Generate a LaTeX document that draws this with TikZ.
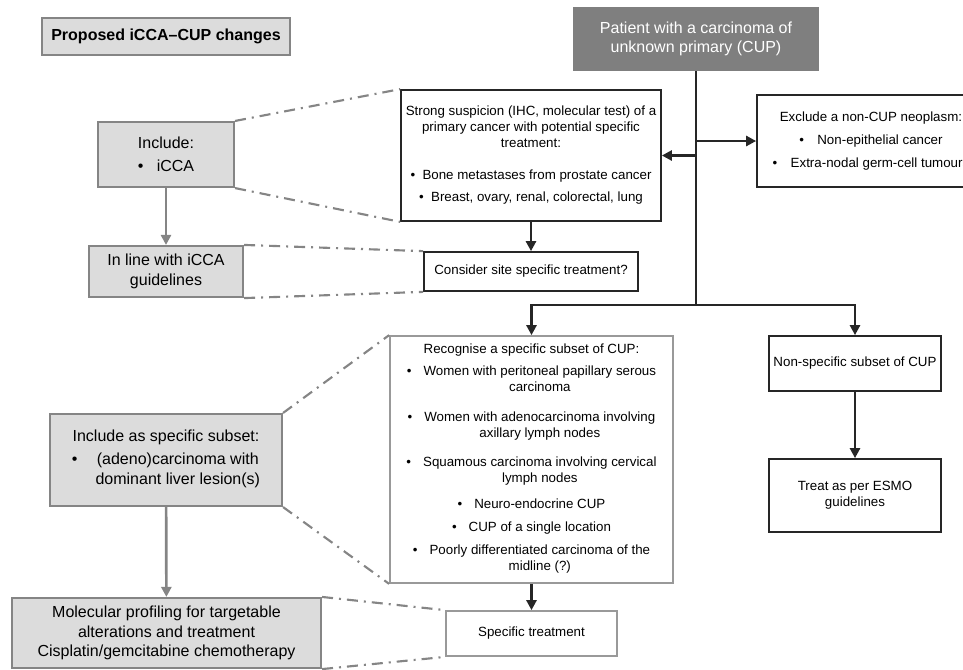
\documentclass[tikz,border=0pt]{standalone}
\usepackage{fontspec}
\setmainfont{Liberation Sans}
\usepackage{xcolor}
\usepackage{tikz}
\usetikzlibrary{arrows.meta, calc}

\definecolor{boxgray}{HTML}{DCDCDC}
\definecolor{edgegray}{HTML}{858585}
\definecolor{headgray}{HTML}{7F7F7F}

\newcommand{\bigtxt}{\fontsize{12}{14.5}\selectfont}
\newcommand{\smalltxt}{\fontsize{10}{12}\selectfont}
\newcommand{\hang}[2]{\textbullet\hspace{#1}\begin{tabular}[t]{@{}c@{}}#2\end{tabular}}

\tikzset{
  graybox/.style={draw=edgegray, line width=1.6pt, fill=boxgray, align=center, inner sep=0pt, font=\bigtxt},
  darkbox/.style={fill=headgray, text=white, align=center, inner sep=0pt, font=\bigtxt},
  whitebox/.style={draw=black!85, line width=1.3pt, fill=white, align=center, inner sep=0pt, font=\smalltxt},
  lightbox/.style={whitebox, draw=gray!80},
  flow/.style={->, line width=2pt, black!85},
  grayflow/.style={->, line width=2pt, edgegray},
  link/.style={edgegray, line width=1.6pt, dash pattern=on 8.25pt off 4.5pt on 1.5pt off 4.5pt},
}

\begin{document}
\begin{tikzpicture}[x=0.75pt, y=-0.75pt, >={Triangle[length=7.5pt, width=7.5pt]}]
    % Frame
    \useasboundingbox (0,0) rectangle (963,669);
    \clip (0,0) rectangle (963,669);

    % Left column: proposed changes
    \node[graybox, minimum width=186pt, minimum height=27.75pt, font=\bigtxt\bfseries] (title) at (166,36.5) {Proposed iCCA--CUP changes};
    \node[graybox, minimum width=102pt, minimum height=48.75pt] (include) at (166,154.5) {Include:\\[3pt] \textbullet\hspace{10pt}iCCA};
    \node[graybox, minimum width=115.5pt, minimum height=38.25pt] (inline) at (166,271.5) {In line with iCCA\\guidelines};
    \node[graybox, minimum width=174pt, minimum height=69pt] (specsub) at (166,460) {Include as specific subset:\\[3pt] \hang{13.5pt}{(adeno)carcinoma with\\dominant liver lesion(s)}};
    \node[graybox, minimum width=231.75pt, minimum height=52.5pt] (molecular) at (166.5,633) {Molecular profiling for targetable\\alterations and treatment\\Cisplatin/gemcitabine chemotherapy};

    % CUP pathway
    \node[darkbox, minimum width=184.5pt, minimum height=48pt] (patient) at (696,39) {Patient with a carcinoma of\\unknown primary (CUP)};
    \node[whitebox, minimum width=195pt, minimum height=98.25pt] (strong) at (531,155.5) {Strong suspicion (IHC, molecular test) of a\\primary cancer with potential specific\\treatment:\\[12pt] \textbullet\hspace{0.55em}Bone metastases from prostate cancer\\[4.5pt] \textbullet\hspace{0.55em}Breast, ovary, renal, colorectal, lung};
    \node[whitebox, minimum width=160.5pt, minimum height=29.25pt] (consider) at (531,271.5) {Consider site specific treatment?};
    \node[whitebox, minimum width=171pt, minimum height=69pt] (exclude) at (871,141) {Exclude a non-CUP neoplasm:\\[5pt] \textbullet\hspace{1em}Non-epithelial cancer\\[5pt] \textbullet\hspace{1em}Extra-nodal germ-cell tumours};
    \node[lightbox, minimum width=212.25pt, minimum height=185.25pt] (recognise) at (531.5,459.5) {Recognise a specific subset of CUP:\\[4.5pt]
      \hang{0.9em}{Women with peritoneal papillary serous\\carcinoma}\\[9pt]
      \hang{0.9em}{Women with adenocarcinoma involving\\axillary lymph nodes}\\[9pt]
      \hang{0.9em}{Squamous carcinoma involving cervical\\lymph nodes}\\[8pt]
      \textbullet\hspace{0.9em}Neuro-endocrine CUP\\[5pt]
      \textbullet\hspace{0.9em}CUP of a single location\\[5pt]
      \hang{0.9em}{Poorly differentiated carcinoma of the\\midline (?)}};
    \node[lightbox, minimum width=128.25pt, minimum height=33.75pt] (spectreat) at (531.5,633.5) {Specific treatment};
    \node[whitebox, minimum width=129pt, minimum height=41.25pt] (nonspec) at (855,363.5) {Non-specific subset of CUP};
    \node[whitebox, minimum width=129pt, minimum height=54.75pt] (treat) at (855,495.5) {Treat as per ESMO\\guidelines};

    % Arrows
    \coordinate (split) at (696,305);
    \draw[line width=2pt, black!85] (patient.south) -- (split);
    \draw[flow] (split) -| (recognise.north);
    \draw[flow] (split) -| (nonspec.north);
    \draw[flow] (patient.south |- strong.east) -- (strong.east);
    \draw[flow] (patient.south |- exclude.west) -- (exclude.west);
    \draw[flow] (strong) -- (consider);
    \draw[flow] (recognise) -- (spectreat);
    \draw[flow] (nonspec) -- (treat);
    \draw[grayflow] (include) -- (inline);
    \draw[grayflow] (specsub) -- (molecular);

    % Links between the two columns
    \draw[link] (include.north east) -- (strong.north west);
    \draw[link] (include.south east) -- (strong.south west);
    \draw[link] (inline.north east) -- (consider.north west);
    \draw[link] (inline.south east) -- (consider.south west);
    \draw[link] (specsub.north east) -- (recognise.north west);
    \draw[link] (specsub.south east) -- (recognise.south west);
    \draw[link] (molecular.north east) -- (spectreat.north west);
    \draw[link] (molecular.south east) -- (spectreat.south west);
\end{tikzpicture}
\end{document}
